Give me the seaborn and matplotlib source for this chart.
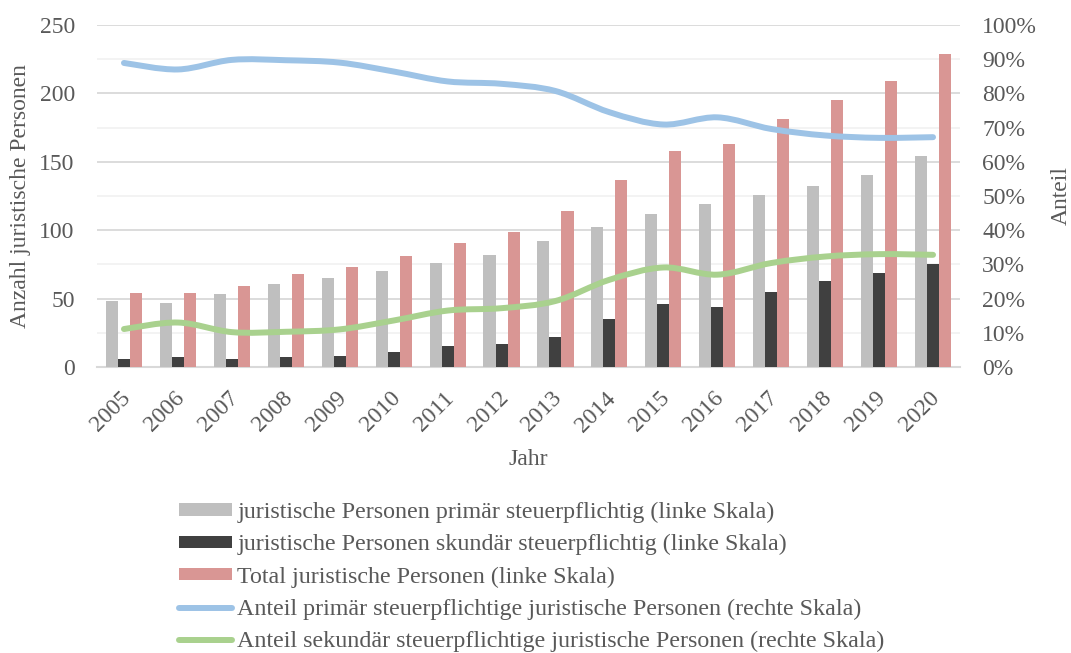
import numpy as np
import pandas as pd
import matplotlib
matplotlib.use("Agg")
import matplotlib.pyplot as plt
import matplotlib.transforms as mtransforms
import seaborn as sns
from matplotlib.path import Path
from matplotlib.patches import PathPatch, Patch
from matplotlib.lines import Line2D
from matplotlib.ticker import PercentFormatter, MultipleLocator

# --- data -------------------------------------------------------------
jahre = [str(y) for y in range(2005, 2021)]
primaer = [48, 47, 53, 61, 65, 70, 76, 82, 92, 102, 112, 119, 126, 132, 140, 154]
sekundaer = [6, 7, 6, 7, 8, 11, 15, 17, 22, 35, 46, 44, 55, 63, 69, 75]
total = [54, 54, 59, 68, 73, 81, 91, 99, 114, 137, 158, 163, 181, 195, 209, 229]
anteil_primaer = [0.889, 0.870, 0.898, 0.897, 0.890, 0.864, 0.835, 0.828,
                  0.807, 0.745, 0.709, 0.730, 0.696, 0.677, 0.670, 0.672]
anteil_sekundaer = [0.111, 0.130, 0.102, 0.103, 0.110, 0.136, 0.165, 0.172,
                    0.193, 0.255, 0.291, 0.270, 0.304, 0.323, 0.330, 0.328]

labels = [
    "juristische Personen primär steuerpflichtig (linke Skala)",
    "juristische Personen skundär steuerpflichtig (linke Skala)",
    "Total juristische Personen (linke Skala)",
    "Anteil primär steuerpflichtige juristische Personen (rechte Skala)",
    "Anteil sekundär steuerpflichtige juristische Personen (rechte Skala)",
]

# --- style ------------------------------------------------------------
c_prim = "#bfbfbf"
c_sek = "#404040"
c_tot = "#d99694"
c_blue = "#9dc3e6"
c_green = "#a9d18e"
text_color = "#595959"

sns.set_theme(style="white")
plt.rcParams["font.family"] = ["Liberation Serif", "DejaVu Serif"]
plt.rcParams["text.color"] = text_color
fs = 17

fig = plt.figure(figsize=(10.71, 6.53), dpi=100)
W, H = 1071, 653
ax = fig.add_axes([97 / W, 1 - 367 / H, (960 - 97) / W, (367 - 25) / H])

df = pd.DataFrame({
    "Jahr": jahre * 3,
    "Wert": primaer + sekundaer + total,
    "Serie": [labels[0]] * 16 + [labels[1]] * 16 + [labels[2]] * 16,
})
sns.barplot(data=df, x="Jahr", y="Wert", hue="Serie",
            palette=[c_prim, c_sek, c_tot], width=0.67, gap=0,
            saturation=1, linewidth=0, legend=False, ax=ax, zorder=3)

ax.set_ylim(0, 250)
ax.set_xlim(-0.5, 15.5)
ax.yaxis.set_major_locator(MultipleLocator(50))
ax.yaxis.set_minor_locator(MultipleLocator(25))
ax.grid(which="minor", axis="y", color="#f2f2f2", lw=1.3, zorder=0)
ax.grid(which="major", axis="y", color="#d9d9d9", lw=1.3, zorder=0)
ax.grid(False, axis="x")
ax.set_axisbelow(True)
for s in ["top", "right", "left"]:
    ax.spines[s].set_visible(False)
ax.spines["bottom"].set_color("#d9d9d9")
ax.spines["bottom"].set_linewidth(1.5)

ax.tick_params(axis="y", which="both", length=0, pad=16, labelsize=fs,
               labelcolor=text_color)
ax.tick_params(axis="x", length=0, pad=15, labelsize=fs, labelcolor=text_color)
shift = mtransforms.ScaledTranslation(-4 / 100, 0, fig.dpi_scale_trans)
for t in ax.get_xticklabels():
    t.set_rotation(45)
    t.set_ha("right")
    t.set_rotation_mode("anchor")
    t.set_transform(t.get_transform() + shift)

ax.set_xlabel("Jahr", fontsize=fs, color=text_color, labelpad=9)
ax.set_ylabel("Anzahl juristische Personen", fontsize=fs, color=text_color,
              labelpad=6)

# --- right axis: shares as smoothed lines ----------------------------
ax2 = ax.twinx()
ax2.set_ylim(0, 1)
ax2.yaxis.set_major_locator(MultipleLocator(0.1))
ax2.yaxis.set_major_formatter(PercentFormatter(1.0, decimals=0))
ax2.tick_params(axis="y", length=0, pad=16, labelsize=fs, labelcolor=text_color)
for s in ax2.spines.values():
    s.set_visible(False)
ax2.grid(False)
ax2.set_ylabel("Anteil", fontsize=fs, color=text_color, labelpad=10)


def smooth_path(xs, ys):
    """Cubic Bezier through the points (Catmull-Rom style tangents)."""
    pts = np.column_stack([xs, ys]).astype(float)
    n = len(pts)
    verts = [pts[0]]
    codes = [Path.MOVETO]
    for i in range(n - 1):
        p0 = pts[i - 1] if i > 0 else pts[i]
        p1 = pts[i]
        p2 = pts[i + 1]
        p3 = pts[i + 2] if i + 2 < n else pts[i + 1]
        c1 = p1 + (p2 - p0) / 6.0
        c2 = p2 - (p3 - p1) / 6.0
        verts += [c1, c2, p2]
        codes += [Path.CURVE4] * 3
    return Path(verts, codes)


xs = np.arange(len(jahre))
for vals, col in [(anteil_primaer, c_blue), (anteil_sekundaer, c_green)]:
    patch = PathPatch(smooth_path(xs, vals), facecolor="none", edgecolor=col,
                      lw=4.3, capstyle="round", joinstyle="round",
                      transform=ax2.transData, zorder=4)
    ax2.add_patch(patch)

# --- legend ----------------------------------------------------------
handles = [
    Patch(facecolor=c_prim, edgecolor="none"),
    Patch(facecolor=c_sek, edgecolor="none"),
    Patch(facecolor=c_tot, edgecolor="none"),
    Line2D([], [], color=c_blue, lw=4.3, solid_capstyle="round"),
    Line2D([], [], color=c_green, lw=4.3, solid_capstyle="round"),
]
leg = fig.legend(handles, labels, loc="upper left",
                 bbox_to_anchor=(179 / W, 1 - 502 / H), frameon=False,
                 fontsize=17.3, handlelength=2.2, handleheight=0.42,
                 handletextpad=0.22, labelspacing=0.46, borderpad=0,
                 borderaxespad=0)
for t in leg.get_texts():
    t.set_color(text_color)

fig.savefig("out.png", dpi=100)
